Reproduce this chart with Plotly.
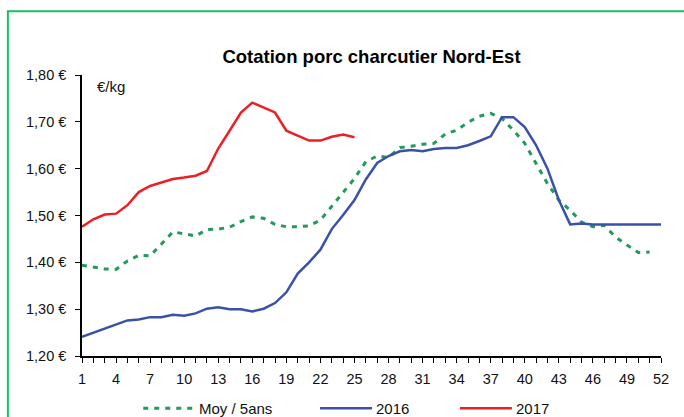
import plotly.graph_objects as go

weeks = list(range(1, 53))

moy_5ans = [1.394, 1.390, 1.386, 1.385, 1.403, 1.415, 1.414, 1.439, 1.465, 1.461,
            1.456, 1.470, 1.471, 1.475, 1.487, 1.497, 1.494, 1.481, 1.476, 1.476,
            1.478, 1.490, 1.520, 1.549, 1.579, 1.615, 1.627, 1.624, 1.645, 1.648,
            1.652, 1.654, 1.674, 1.682, 1.699, 1.712, 1.718, 1.707, 1.682, 1.654,
            1.611, 1.568, 1.533, 1.511, 1.486, 1.476, 1.479, 1.454, 1.437, 1.421,
            1.422]

y2016 = [1.241, 1.250, 1.258, 1.268, 1.276, 1.278, 1.283, 1.283, 1.288, 1.286,
         1.291, 1.301, 1.304, 1.300, 1.300, 1.295, 1.301, 1.313, 1.336, 1.376,
         1.400, 1.427, 1.471, 1.501, 1.533, 1.577, 1.612, 1.627, 1.637, 1.640,
         1.637, 1.642, 1.644, 1.644, 1.650, 1.659, 1.669, 1.710, 1.710, 1.689,
         1.650, 1.600, 1.533, 1.481, 1.483, 1.481, 1.481, 1.481, 1.481, 1.481,
         1.481, 1.481]

y2017 = [1.476, 1.492, 1.502, 1.504, 1.522, 1.550, 1.563, 1.570, 1.578, 1.581,
         1.585, 1.595, 1.643, 1.681, 1.720, 1.741, 1.731, 1.720, 1.681, 1.670,
         1.660, 1.660, 1.668, 1.673, 1.667]

series_names = ["Moy / 5ans", "2016", "2017"]

x_tickvals = list(range(1, 53, 3))
x_ticktext = [str(v) for v in x_tickvals]
y_tickvals = [1.20, 1.30, 1.40, 1.50, 1.60, 1.70, 1.80]
y_ticktext = ["1,20 €", "1,30 €", "1,40 €", "1,50 €", "1,60 €", "1,70 €", "1,80 €"]

GREEN = "#23995c"
BLUE = "#3a51a8"
RED = "#ee1f24"
FONT = "Liberation Sans, Arial, sans-serif"
styles = [dict(color=GREEN, width=3, dash="5px,6px"),
          dict(color=BLUE, width=2.5),
          dict(color=RED, width=2.5)]
series = [moy_5ans, y2016, y2017]

fig = go.Figure()
for name, ys, st in zip(series_names, series, styles):
    fig.add_trace(go.Scatter(x=weeks[:len(ys)], y=ys, mode="lines", name=name,
                             line=st, showlegend=False))

L, R, T, B = 81.7, 661.3, 74.7, 355.7
W, H = 684, 417
pw, ph = R - L, B - T

def px_x(p):
    return (p - L) / pw

def px_y(p):
    return (B - p) / ph

# legend drawn as shapes + annotations (avoids plotly pushing the margins)
leg_y = 408
leg_line_x = [143, 320, 460]
leg_len = 52
shapes = [dict(type="path", xref="paper", yref="paper",
               path=f"M {px_x(7.5)} {px_y(420)} L {px_x(7.5)} {px_y(11)} L {px_x(690)} {px_y(11)}",
               line=dict(color="#19c060", width=2), layer="above")]
annotations = [dict(text="€/kg", x=px_x(95), y=px_y(86), xref="paper", yref="paper",
                    xanchor="left", yanchor="middle", showarrow=False,
                    font=dict(size=15, family=FONT, color="#111111"))]
for name, st, x0 in zip(series_names, styles, leg_line_x):
    shapes.append(dict(type="line", xref="paper", yref="paper",
                       x0=px_x(x0), x1=px_x(x0 + leg_len), y0=px_y(leg_y), y1=px_y(leg_y),
                       line=st))
    annotations.append(dict(text=name, x=px_x(x0 + leg_len + 2), y=px_y(leg_y),
                            xref="paper", yref="paper", xanchor="left", yanchor="middle",
                            showarrow=False,
                            font=dict(size=15, family=FONT, color="#111111")))

fig.update_layout(
    width=W, height=H,
    margin=dict(l=L, r=W - R, t=T, b=H - B, pad=0),
    paper_bgcolor="white", plot_bgcolor="white",
    font=dict(family=FONT, size=14.5, color="#111111"),
    title=dict(text="<b>Cotation porc charcutier Nord-Est</b>", x=0.5, xref="paper",
               xanchor="center", y=1 - 57 / H, yref="container", yanchor="middle",
               font=dict(size=18.5, color="#000000", family=FONT)),
    showlegend=False,
    xaxis=dict(range=[1, 52], tickmode="array", tickvals=x_tickvals, ticktext=x_ticktext,
               ticks="outside", ticklen=5, tickwidth=1, tickcolor="#000000",
               showline=True, linecolor="#000000", linewidth=1.5, showgrid=False,
               zeroline=False, tickfont=dict(size=14.5), ticklabelstandoff=4,
               automargin=False,
               minor=dict(dtick=1, tick0=1, ticks="outside", ticklen=5, tickwidth=1,
                          tickcolor="#000000", showgrid=False)),
    yaxis=dict(range=[1.2, 1.8], tickmode="array", tickvals=y_tickvals, ticktext=y_ticktext,
               ticks="outside", ticklen=5, tickwidth=1, tickcolor="#000000",
               showline=True, linecolor="#000000", linewidth=1.5, showgrid=False,
               zeroline=False, tickfont=dict(size=14.5), ticklabelstandoff=6,
               automargin=False),
    annotations=annotations,
    shapes=shapes,
)

fig.write_html("out.html", config={"displayModeBar": False},
               post_script="document.body.style.margin='0px';")
